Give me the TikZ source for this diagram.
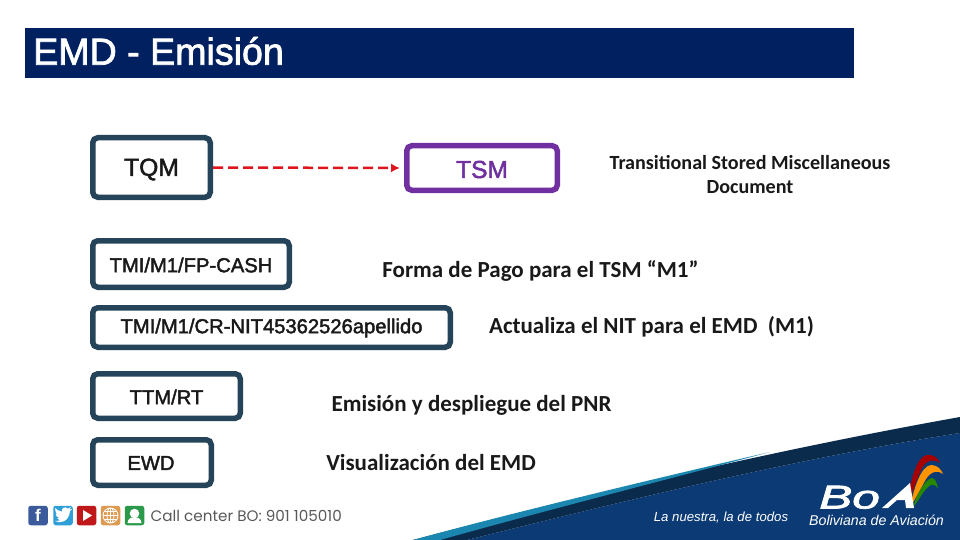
\documentclass[tikz,border=0pt]{standalone}
\usepackage{fontspec}
\usetikzlibrary{arrows.meta}
\setmainfont{Liberation Sans}
\newfontfamily\medfont{Liberation Sans}[FakeBold=2]
\newfontfamily\carfont{Carlito}
\newfontfamily\popfont{Poppins}
\newcommand{\fsz}[1]{\fontsize{#1}{#1}\selectfont}
\definecolor{navy}{HTML}{002060}
\definecolor{slate}{HTML}{254459}
\definecolor{purp}{HTML}{7030A0}
\definecolor{dashred}{HTML}{E0141C}
\definecolor{boablue}{HTML}{0B3A74}
\definecolor{boadark}{HTML}{0A2B4C}
\definecolor{boateal}{HTML}{1B86B0}
\definecolor{icfb}{HTML}{3A5A9C}
\definecolor{ictw}{HTML}{2F9FD8}
\definecolor{icyt}{HTML}{C01818}
\definecolor{icweb}{HTML}{DE9A50}
\definecolor{icchat}{HTML}{2A9A4A}
\tikzset{
  cmdbox/.style={draw=slate,line width=5.5pt,rounded corners=5pt,fill=white,inner sep=0pt},
  cmdtext/.style={font=\medfont\fsz{20.2},text=black!90,inner sep=0pt},
  bigtext/.style={font=\medfont\fsz{24.6},inner sep=0pt},
  desc/.style={font=\carfont\bfseries\fsz{23},text=black!90,align=center,inner sep=0pt},
  icon/.style={minimum size=19.5pt,inner sep=0pt,rounded corners=2.5pt,text=white,font=\bfseries\fsz{17}},
  flow/.style={draw=dashred,line width=2.5pt,dash pattern=on 10pt off 5pt,-{Latex[length=9pt,width=9pt]},shorten <=0pt,shorten >=4pt},
}
\begin{document}
\begin{tikzpicture}[x=1pt,y=-1pt]
\useasboundingbox (0,0) rectangle (960,540);
\fill[white] (0,0) rectangle (960,540);
% title
\node[fill=navy,minimum width=829pt,minimum height=50pt,inner sep=0pt,outer sep=0pt] (title) at (439.5,53) {};
\node[text=white,font=\medfont\fsz{37.6},anchor=west,inner sep=0pt] (titletext) at (33,51) {EMD - Emisión};
% boxes
\node[cmdbox,minimum width=117.5pt,minimum height=59.5pt] (tqm) at (151.5,167.5) {};
\node[bigtext,text=black!90] (tqmt) at (151.5,169.5) {TQM};
\node[cmdbox,draw=purp,minimum width=150.5pt,minimum height=44.5pt] (tsm) at (482,168) {};
\node[bigtext,text=purp] (tsmt) at (482,169.5) {TSM};
\node[cmdbox,minimum width=196.5pt,minimum height=46.5pt] (cash) at (191,264) {};
\node[cmdtext] (casht) at (191,265) {TMI/M1/FP-CASH};
\node[cmdbox,minimum width=357.5pt,minimum height=39.5pt] (nit) at (271.5,327.5) {};
\node[cmdtext] (nitt) at (271.5,328) {TMI/M1/CR-NIT45362526apellido};
\node[cmdbox,minimum width=147.5pt,minimum height=44.5pt] (ttm) at (166.5,396) {};
\node[cmdtext] (ttmt) at (166.5,397) {TTM/RT};
\node[cmdbox,minimum width=118.5pt,minimum height=45.5pt] (ewd) at (152,462.5) {};
\node[cmdtext] (ewdt) at (151,463) {EWD};
% connector
\draw[flow] (tqm.east) -- (tsm.west);
% descriptions
\node[desc,font=\carfont\bfseries\fsz{20.1}] (d1) at (750,174.5) {Transitional Stored Miscellaneous\\[4.5pt]Document};
\node[desc] (d2) at (540.5,271) {Forma de Pago para el TSM “M1”};
\node[desc] (d3) at (651.5,327) {Actualiza el NIT para el EMD\ \ (M1)};
\node[desc] (d4) at (471.5,405) {Emisión y despliegue del PNR};
\node[desc] (d5) at (431,463) {Visualización del EMD};
% footer band
\fill[boablue] (467,540) .. controls (640,497) and (800,458) .. (960,433) -- (960,540) -- cycle;
\fill[boadark] (413,540) .. controls (520,512) and (730,458) .. (960,417) -- (960,433) .. controls (800,458) and (640,497) .. (467,540) -- cycle;
\fill[boateal] (413,540) .. controls (500,516) and (640,482) .. (770,452) .. controls (650,484) and (540,512) .. (440,540) -- cycle;
% logo
\fill[red!65!black] (907,506) .. controls (910,480) and (917,456) .. (927,455) .. controls (933,454) and (938,458) .. (940,463) .. controls (935,459) and (927,459) .. (922,468) .. controls (917,478) and (912,494) .. (907,506) -- cycle;
\fill[orange!85!yellow] (910,507) .. controls (914,488) and (921,466) .. (931,465) .. controls (937,465) and (941,469) .. (943,474) .. controls (938,470) and (931,471) .. (926,479) .. controls (921,488) and (915,500) .. (910,507) -- cycle;
\fill[green!45!black!85!yellow] (913,507) .. controls (916,496) and (925,479) .. (932,478) .. controls (935,478) and (937,483) .. (938,488) .. controls (934,483) and (930,484) .. (926,489) .. controls (921,495) and (917,503) .. (913,507) -- cycle;
\node[text=white,font=\medfont\fsz{33}\itshape,inner sep=0pt,anchor=base west,xscale=1.5] (boa) at (819,508.5) {Bo};
\fill[white] (882,508) -- (910,483) -- (914,508) -- (906,508) -- (905,500) -- (897,500) -- (888,508) -- cycle;
\node[text=white,font=\fsz{14.2}\itshape,inner sep=0pt] (bol) at (876.5,520) {Boliviana de Aviación};
\node[text=white,font=\fsz{13.2}\itshape,inner sep=0pt] (slogan) at (721,518) {La nuestra, la de todos};
% social row
\node[icon,fill=icfb] (fb) at (38,515.5) {f};
\node[icon,fill=ictw] (tw) at (63,515.5) {};
\fill[white] (55,521) .. controls (60,524) and (69,522) .. (70,511) -- (72,509) -- (69.5,509.5) -- (71,507) -- (68,508.5) .. controls (65,506) and (61,508) .. (62,511.5) .. controls (59,511) and (57,510) .. (55,508) .. controls (55,511) and (56,513) .. (57,514) -- (55.5,513.5) .. controls (56,516) and (57,517) .. (59,518) -- (57,518) .. controls (58,520) and (59,520) .. (60,520.5) .. controls (58,521) and (57,521.5) .. (55,521) -- cycle;
\node[icon,fill=icyt] (yt) at (86.5,515.5) {};
\fill[white] (83,510) -- (92,515.5) -- (83,521) -- cycle;
\node[icon,fill=icweb] (web) at (110.5,515.5) {};
\draw[white,line width=.8pt] (web.center) circle (7.5pt) (web.center) ellipse (3.5pt and 7.5pt);
\draw[white,line width=.8pt] (103,515.5) -- (118,515.5) (104,511.5) -- (117,511.5) (104,519.5) -- (117,519.5) (110.5,508) -- (110.5,523);
\node[icon,fill=icchat] (chat) at (134.5,515.5) {};
\fill[white] (chat.center) ++(0,-2) circle (4.8pt);
\fill[white] (127.5,523) .. controls (128,518) and (131,517.5) .. (134.5,517.5) .. controls (138,517.5) and (141,518) .. (141.5,523) -- cycle;
\node[text=black!65,font=\popfont\fsz{15.2},inner sep=0pt,anchor=west] (call) at (150.5,516) {Call center BO: 901 105010};
\end{tikzpicture}
\end{document}
